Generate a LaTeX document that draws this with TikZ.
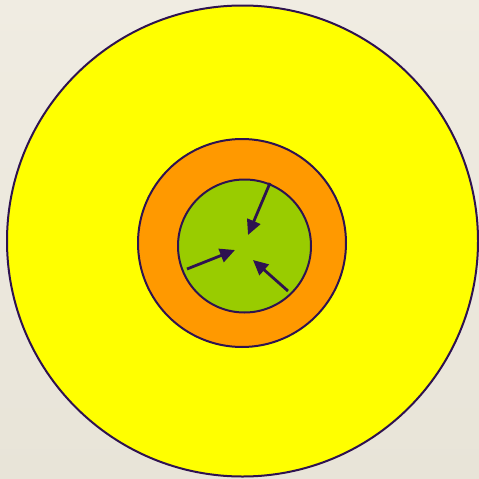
\documentclass[tikz,border=0pt]{standalone}
\usetikzlibrary{arrows.meta}
\definecolor{bgtop}{HTML}{F0ECE2}
\definecolor{bgbot}{HTML}{E8E4D8}
\definecolor{ring}{HTML}{2E1250}
\definecolor{yel}{HTML}{FFFF00}
\definecolor{ora}{HTML}{FF9900}
\definecolor{grn}{HTML}{99CC00}
\tikzset{
  disc/.style={circle, draw=ring, line width=2pt, inner sep=0pt},
  inarrow/.style={draw=ring, line width=2.8pt, -{Triangle[length=15pt,width=14pt]}, shorten >=0pt}
}
\begin{document}
\begin{tikzpicture}[x=1pt,y=-1pt]
\useasboundingbox (0,0) rectangle (479,479);
\shade[top color=bgtop, bottom color=bgbot] (0,0) rectangle (479,479);
\node[disc, fill=yel, minimum size=471pt] (outer) at (242.5,241) {};
\node[disc, fill=ora, minimum size=208pt] (mid) at (242,243) {};
\node[disc, fill=grn, minimum size=133pt] (core) at (244.5,246) {};
\coordinate (a1s) at (270,183);
\coordinate (a1e) at (248,235);
\coordinate (a2s) at (187,269);
\coordinate (a2e) at (235,250);
\coordinate (a3s) at (288,291);
\coordinate (a3e) at (253,260);
\draw[inarrow] (a1s) -- (a1e);
\draw[inarrow] (a2s) -- (a2e);
\draw[inarrow] (a3s) -- (a3e);
\end{tikzpicture}
\end{document}
